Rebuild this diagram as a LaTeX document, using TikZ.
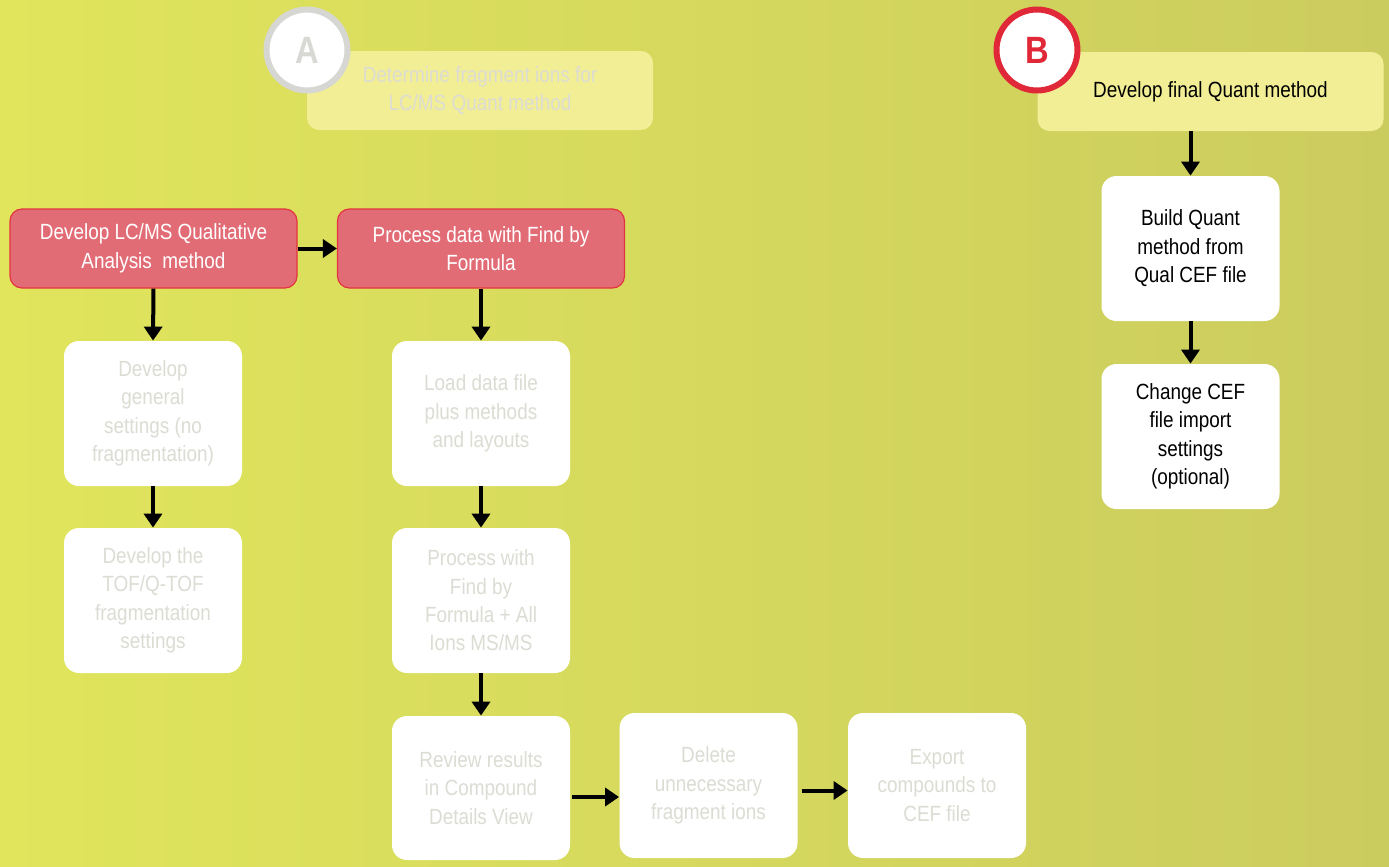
\documentclass[tikz,border=0pt]{standalone}
\usepackage{fontspec}
\setmainfont{Liberation Sans}[FakeStretch=0.86]
\usetikzlibrary{arrows.meta,shadings}
\definecolor{bgL}{RGB}{224,229,92}
\definecolor{bgR}{RGB}{203,204,94}
\definecolor{paleY}{RGB}{242,238,150}
\definecolor{fadeT}{RGB}{220,220,212}
\definecolor{redF}{RGB}{226,108,118}
\definecolor{redB}{RGB}{226,52,64}
\definecolor{ringG}{RGB}{214,214,210}
\definecolor{letG}{RGB}{216,216,212}
\definecolor{letR}{RGB}{224,40,56}
\tikzset{
  wbox/.style={fill=white, rounded corners=7.5pt, align=center, font=\fontsize{11}{14.2}\selectfont, inner sep=0pt},
  fade/.style={text=fadeT},
  dark/.style={text=black},
  ybox/.style={fill=paleY, rounded corners=6pt, align=center, font=\fontsize{11}{14.2}\selectfont, inner sep=0pt, minimum width=173pt, minimum height=39.5pt},
  rbox/.style={fill=redF, draw=redB, line width=0.6pt, rounded corners=6pt, align=center, text=white, font=\fontsize{11}{14.2}\selectfont, inner sep=0pt, minimum width=143.5pt, minimum height=39.5pt},
  tall/.style={minimum width=89pt, minimum height=72.5pt},
  ring/.style={circle, fill=white, line width=3pt, minimum size=40.5pt, inner sep=0pt, font=\fontsize{19}{19}\selectfont\bfseries},
  arr/.style={line width=2pt, -{Triangle[length=7pt,width=9pt]}}
}
\begin{document}
\begin{tikzpicture}[x=0.5pt,y=-0.5pt]
\shade[left color=bgL, right color=bgR] (0,0) rectangle (1389,867);
\useasboundingbox (0,0) rectangle (1389,867);

% A panel
\node[ybox, text=fadeT] (abox) at (480,90.5) {Determine fragment ions for\\LC/MS Quant method};
\node[ring, draw=ringG, text=letG] (acirc) at (307,50) {A};

% B panel
\node[ybox, text=black] (bbox) at (1210.5,91.5) {Develop final Quant method};
\node[ring, draw=letR, text=letR] (bcirc) at (1037,50) {B};
\node[wbox, tall, dark] (build) at (1190.5,248.5) {Build Quant\\method from\\Qual CEF file};
\node[wbox, tall, dark] (change) at (1190.5,436.5) {Change CEF\\file import\\settings\\(optional)};

% red boxes
\node[rbox] (qual) at (153.5,248.5) {Develop LC/MS Qualitative\\Analysis\ \ method};
\node[rbox] (proc) at (481,248.5) {Process data with Find by\\Formula};

% faded white boxes
\node[wbox, tall, fade] (gen) at (153,413.5) {Develop\\general\\settings (no\\fragmentation)};
\node[wbox, tall, fade] (tof) at (153,600.5) {Develop the\\TOF/Q-TOF\\fragmentation\\settings};
\node[wbox, tall, fade] (load) at (481,413.5) {Load data file\\plus methods\\and layouts};
\node[wbox, tall, fade] (pfind) at (481,600.5) {Process with\\Find by\\Formula + All\\Ions MS/MS};
\node[wbox, tall, fade, minimum height=72pt] (review) at (481,788) {Review results\\in Compound\\Details View};
\node[wbox, tall, fade] (delete) at (708.5,785.5) {Delete\\unnecessary\\fragment ions};
\node[wbox, tall, fade] (export) at (937,785.5) {Export\\compounds to\\CEF file};

% arrows
\draw[arr] (bbox.south -| build.north) -- (build.north);
\draw[arr] (build.south) -- (change.north);
\draw[arr] (qual.east) -- (proc.west);
\draw[arr] (qual.south) -- (gen.north);
\draw[arr] (gen.south) -- (tof.north);
\draw[arr] (proc.south) -- (load.north);
\draw[arr] (load.south) -- (pfind.north);
\draw[arr] (pfind.south) -- (review.north);
\draw[arr] ([xshift=1pt,yshift=-4.5pt]review.east) -- ([yshift=-4.5pt]review.east -| delete.west);
\draw[arr] ([xshift=2pt,yshift=-2.5pt]delete.east) -- ([yshift=-2.5pt]delete.east -| export.west);
\end{tikzpicture}
\end{document}
